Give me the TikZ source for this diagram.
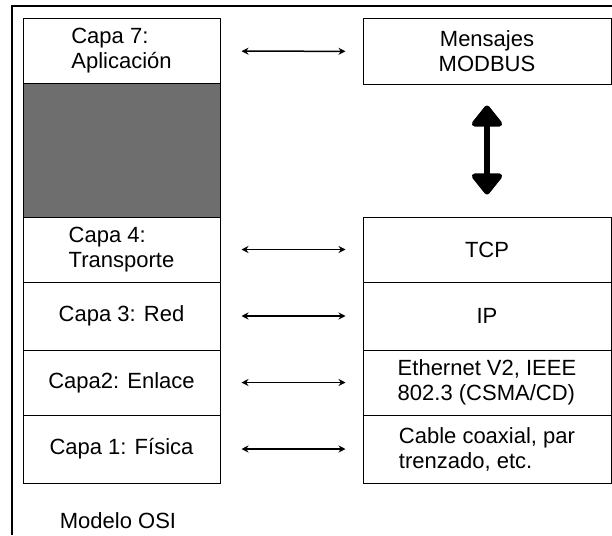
\documentclass[tikz,border=0pt]{standalone}
\usepackage{fontspec}
\setmainfont{Liberation Sans}
\usepackage{xcolor}
\usepackage{tikz}
\usetikzlibrary{arrows.meta}

\begin{document}
\begin{tikzpicture}[x=1pt, y=-1pt, every node/.style={font=\fontsize{22}{25}\selectfont},
    layer/.style={draw, line width=1pt, rectangle, minimum width=197pt, inner sep=0pt, align=left},
    proto/.style={draw, line width=1pt, rectangle, minimum width=248pt, inner sep=0pt, align=left},
    link/.style={{Stealth[length=7pt,width=7pt]}-{Stealth[length=7pt,width=7pt]}, line width=1.5pt, shorten <=21pt, shorten >=17pt}]
    \useasboundingbox (0,0) rectangle (612,535);
    % Frame
    \draw[line width=2pt] (612,6) -- (12,6) -- (12,535);
    % OSI layers
    \node[layer, minimum height=64pt] (c7) at (121.5,51) {Capa 7:\\Aplicación};
    \node[layer, minimum height=134pt, fill=black!57] (gap) at (121.5,150) {};
    \node[layer, minimum height=65pt] (c4) at (121.5,249.5) {Capa 4:\\Transporte};
    \node[layer, minimum height=68pt] (c3) at (121.5,316) {Capa 3: Red};
    \node[layer, minimum height=65pt] (c2) at (121.5,382.5) {Capa2: Enlace};
    \node[layer, minimum height=68pt] (c1) at (121.5,449) {Capa 1: Física};
    \node (osi) at (118,521) {Modelo OSI};
    % MODBUS TCP stack
    \node[proto, minimum height=65pt, align=center] (msg) at (487,51.5) {Mensajes\\MODBUS};
    \node[proto, minimum height=65pt] (tcp) at (487,249.5) {TCP};
    \node[proto, minimum height=68pt] (ip) at (487,316) {IP};
    \node[proto, minimum height=65pt] (eth) at (487,382.5) {Ethernet V2, IEEE\\802.3 (CSMA/CD)};
    \node[proto, minimum height=68pt] (cab) at (487,449) {Cable coaxial, par\\trenzado, etc.};
    % Arrows
    \draw[link] (c7) -- (msg);
    \draw[link] (c4) -- (tcp);
    \draw[link] (c3) -- (ip);
    \draw[link] (c2) -- (eth);
    \draw[link] (c1) -- (cab);
    \draw[line width=6pt, {Triangle[length=23pt,width=35pt,round]}-{Triangle[length=23pt,width=35pt,round]}, shorten <=21pt, shorten >=22pt] (msg) -- (tcp);
\end{tikzpicture}
\end{document}
